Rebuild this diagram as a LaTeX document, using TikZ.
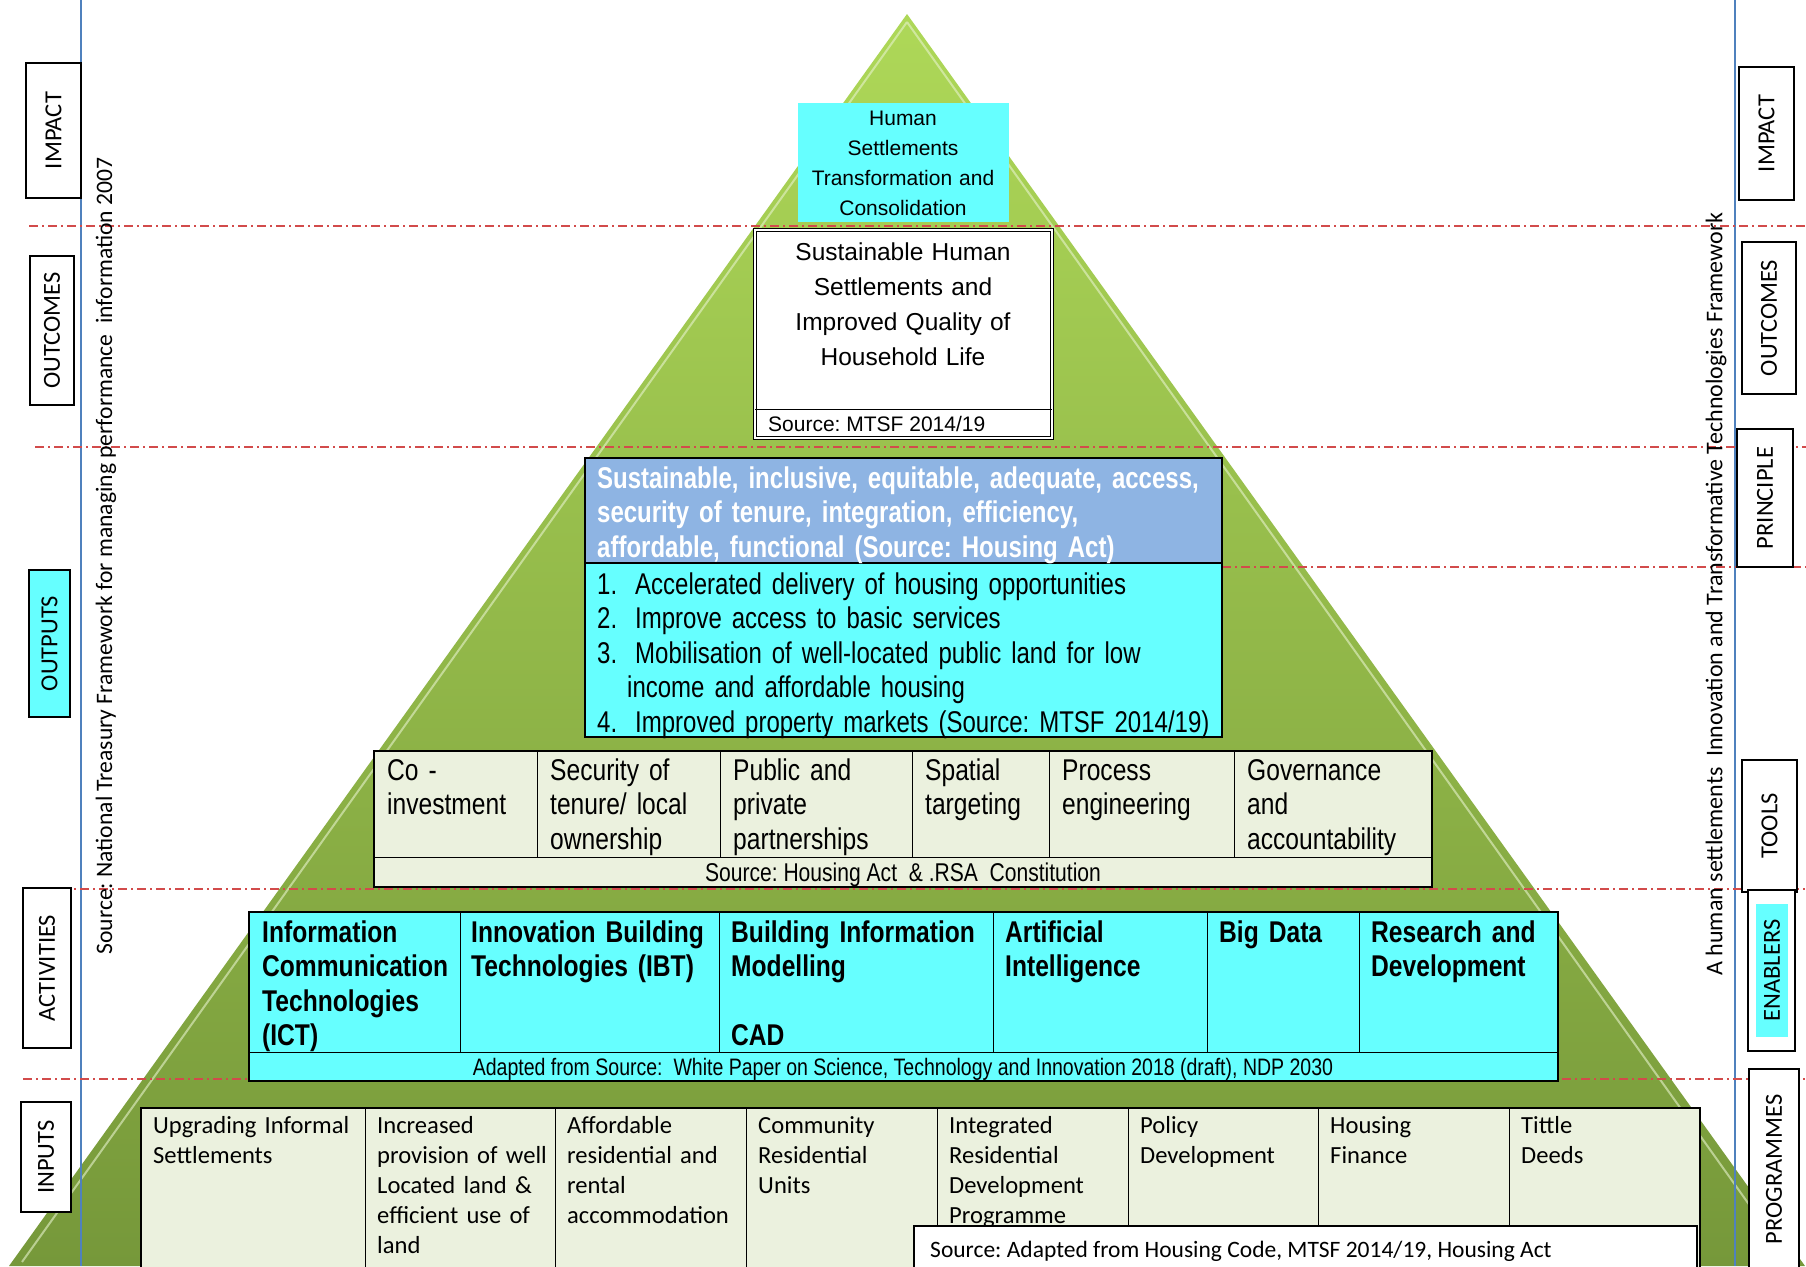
\documentclass[tikz,border=0pt]{standalone}
\usepackage{fontspec}
\setmainfont{Liberation Sans}
\newfontfamily\narrowf[FakeStretch=0.82]{Liberation Sans}
\newfontfamily\narrowg[FakeStretch=0.80]{Liberation Sans}
\newfontfamily\calibf{Carlito}
\frenchspacing
\definecolor{cyanbox}{HTML}{66FFFF}
\definecolor{princ}{HTML}{8EB4E3}
\definecolor{paleg}{HTML}{EBF1DE}
\definecolor{redline}{HTML}{D24B4B}
\definecolor{blueline}{HTML}{4F81BD}
\definecolor{pyrtop}{HTML}{AED858}
\definecolor{pyrbot}{HTML}{76983A}
\newcommand\fnar{\narrowf\fontsize{30}{34.6}\selectfont}
\newcommand\fnarg{\narrowg\fontsize{30}{34.6}\selectfont}
\newcommand\fnarb{\narrowf\bfseries\fontsize{30}{34.6}\selectfont}
\newcommand\fnargb{\narrowg\bfseries\fontsize{30}{34.6}\selectfont}
\newcommand\fcal{\calibf\fontsize{24.6}{30}\selectfont}
\begin{document}
\begin{tikzpicture}[x=1pt,y=-1pt,
  sidelab/.style={draw=black, line width=1.2pt, fill=white, inner sep=0pt, rotate=90,
    font=\calibf\fontsize{24.5}{26}\selectfont},
  cell/.style={anchor=base west, inner sep=0pt, align=left, text width=#1},
  cell/.default=260pt,
  ccell/.style={anchor=base, inner sep=0pt, align=center, text width=#1},
  tbl/.style={draw=black, line width=1.3pt, anchor=north west, inner sep=0pt, outer sep=0pt},
  divl/.style={draw=black, line width=0.9pt},
  ddline/.style={redline, line width=1.1pt, dash pattern=on 9pt off 4pt on 2pt off 4pt},
  bline/.style={blueline, line width=1.3pt}]
\useasboundingbox (0,0) rectangle (1806,1266);
\fill[white] (0,0) rectangle (1806,1266);

% pyramid
\shade[top color=pyrtop, bottom color=pyrbot] (907,14) -- (1805,1266) -- (9,1266) -- cycle;
\draw[white!70!pyrtop, line width=2pt, opacity=0.6] (907,22) -- (1790,1262) (907,22) -- (22,1262);

% blue vertical lines
\coordinate (bl1) at (81,0); \coordinate (bl2) at (81,1266);
\coordinate (br1) at (1735,0); \coordinate (br2) at (1735,1266);
\draw[bline] (bl1) -- (bl2);
\draw[bline] (br1) -- (br2);

% red dash-dot lines
\coordinate (r1a) at (29,226); \coordinate (r1b) at (1806,226);
\coordinate (r2a) at (35,447); \coordinate (r2b) at (1806,447);
\coordinate (r3a) at (1222,567); \coordinate (r3b) at (1806,567);
\coordinate (r4a) at (23,889); \coordinate (r4b) at (1806,889);
\coordinate (r5a) at (23,1079); \coordinate (r5b) at (1806,1079);
\draw[ddline] (r1a) -- (r1b);
\draw[ddline] (r2a) -- (r2b);
\draw[ddline] (r3a) -- (r3b);
\draw[ddline] (r4a) -- (r4b);
\draw[ddline] (r5a) -- (r5b);

% impact
\node[anchor=north west, fill=cyanbox, minimum width=211pt, minimum height=119pt, inner sep=0pt] (impact) at (798,103) {};
\node[ccell=211pt, font=\fontsize{21}{30}\selectfont] (impactt) at (903,125)
  {Human\\Settlements\\Transformation and\\Consolidation};

% outcome box
\node[tbl, fill=white, double, double distance=1.5pt, line width=0.8pt, minimum width=297pt, minimum height=208pt] (outc) at (755,230) {};
\draw[divl] (755,409) -- (1052,409);
\node[ccell=297pt, font=\fontsize{24.5}{35}\selectfont] (outct) at (903,260)
  {Sustainable Human\\Settlements and\\Improved Quality of\\Household Life};
\node[anchor=base west, inner sep=0pt, font=\fontsize{21}{24}\selectfont] (outcs) at (768,431.5) {Source: MTSF 2014/19};

% principle / outputs
\node[tbl, fill=cyanbox, minimum width=637pt, minimum height=279pt] (outp) at (585,458) {};
\node[tbl, fill=princ, minimum width=637pt, minimum height=105pt] (princ) at (585,458) {};
\node[cell=620pt, text=white, font=\fnargb] (princt) at (597,488)
  {Sustainable, inclusive, equitable, adequate, access,\\security of tenure, integration, efficiency,\\affordable, functional (Source: Housing Act)};
\node[cell=30pt, font=\fnarg] (n1) at (597,594) {1.};
\node[cell=30pt, font=\fnarg] (n2) at (597,628.6) {2.};
\node[cell=30pt, font=\fnarg] (n3) at (597,663.2) {3.};
\node[cell=30pt, font=\fnarg] (n4) at (597,732.4) {4.};
\node[cell=590pt, font=\fnarg] (o1) at (635,594) {Accelerated delivery of housing opportunities};
\node[cell=590pt, font=\fnarg] (o2) at (635,628.6) {Improve access to basic services};
\node[cell=590pt, font=\fnarg] (o3) at (635,663.2) {Mobilisation of well-located public land for low};
\node[cell=590pt, font=\fnarg] (o3b) at (627,697.8) {income and affordable housing};
\node[cell=590pt, font=\fnarg] (o4) at (635,732.4) {Improved property markets (Source: MTSF 2014/19)};

% tools
\node[tbl, fill=paleg, minimum width=1058pt, minimum height=136pt] (tools) at (374,751) {};
\foreach \xx in {537,720,912,1049,1234} \draw[divl] (\xx,751) -- (\xx,857);
\draw[divl] (374,857) -- (1432,857);
\node[cell, font=\fnar] (t1) at (387,780) {Co -\\investment};
\node[cell, font=\fnar] (t2) at (550,780) {Security of\\tenure/ local\\ownership};
\node[cell, font=\fnar] (t3) at (733,780) {Public and\\private\\partnerships};
\node[cell, font=\fnar] (t4) at (925,780) {Spatial\\targeting};
\node[cell, font=\fnar] (t5) at (1062,780) {Process\\engineering};
\node[cell, font=\fnar] (t6) at (1247,780) {Governance\\and\\accountability};
\node[anchor=base, inner sep=0pt, font=\narrowf\fontsize{25.7}{28}\selectfont] (ts) at (903,881) {Source: Housing Act\ \ \& .RSA\ \ Constitution};

% enablers
\node[tbl, fill=cyanbox, minimum width=1309pt, minimum height=169pt] (enab) at (249,912) {};
\foreach \xx in {460,719,993,1207,1359} \draw[divl] (\xx,912) -- (\xx,1052);
\draw[divl] (249,1052) -- (1558,1052);
\node[cell, font=\fnarb] (e1) at (262,942) {Information\\Communication\\Technologies\\(ICT)};
\node[cell, font=\fnarb] (e2) at (471,942) {Innovation Building\\Technologies (IBT)};
\node[cell, font=\fnarb] (e3) at (731,942) {Building Information\\Modelling};
\node[cell, font=\fnarb] (e3b) at (731,1045.8) {CAD};
\node[cell, font=\fnarb] (e4) at (1005,942) {Artificial\\Intelligence};
\node[cell, font=\fnarb] (e5) at (1219,942) {Big Data};
\node[cell, font=\fnarb] (e6) at (1371,942) {Research and\\Development};
\node[anchor=base, inner sep=0pt, font=\narrowf\fontsize{23.8}{28}\selectfont] (es) at (903,1075.6)
  {Adapted from Source:\ \ White Paper on Science, Technology and Innovation 2018 (draft), NDP 2030};

% inputs
\node[tbl, fill=paleg, minimum width=1559pt, minimum height=170pt] (inp) at (141,1108) {};
\foreach \xx in {365,555,746,937,1128,1318,1509} \draw[divl] (\xx,1108) -- (\xx,1270);
\node[cell, font=\fcal] (i1) at (153,1133) {Upgrading Informal\\Settlements};
\node[cell, font=\fcal] (i2) at (377,1133) {Increased\\provision of well\\Located land \&\\efficient use of\\land};
\node[cell, font=\fcal] (i3) at (567,1133) {Affordable\\residential and\\rental\\accommodation};
\node[cell, font=\fcal] (i4) at (758,1133) {Community\\Residential\\Units};
\node[cell, font=\fcal] (i5) at (949,1133) {Integrated\\Residential\\Development\\Programme};
\node[cell, font=\fcal] (i6) at (1140,1133) {Policy\\Development};
\node[cell, font=\fcal] (i7) at (1330,1133) {Housing\\Finance};
\node[cell, font=\fcal] (i8) at (1521,1133) {Tittle\\Deeds};
\node[tbl, fill=white, line width=1.1pt, minimum width=783pt, minimum height=60pt] (srcbox) at (914,1226) {};
\node[anchor=base west, inner sep=0pt, font=\calibf\fontsize{23.5}{26}\selectfont] (srct) at (930,1257.6)
  {Source: Adapted from Housing Code, MTSF 2014/19, Housing Act};

% vertical source texts
\node[rotate=90, inner sep=0pt, font=\calibf\fontsize{23.6}{25}\selectfont] (lsrc) at (106,556)
  {Source: National Treasury Framework for managing performance\ \ information 2007};
\node[rotate=90, inner sep=0pt, font=\calibf\fontsize{24}{26}\selectfont] (rsrc) at (1716,594)
  {A human settlements\ \ Innovation and Transformative Technologies Framework};

% left labels
\node[sidelab, minimum width=135pt, minimum height=55pt] (lImp) at (53.5,130.5) {IMPACT};
\node[sidelab, minimum width=149pt, minimum height=44pt] (lOut) at (52,330.5) {OUTCOMES};
\node[sidelab, fill=cyanbox, minimum width=147pt, minimum height=41pt] (lOutp) at (49.5,643.5) {OUTPUTS};
\node[sidelab, minimum width=160pt, minimum height=48pt] (lAct) at (47,968) {ACTIVITIES};
\node[sidelab, minimum width=110pt, minimum height=50pt] (lInp) at (46,1157) {INPUTS};

% right labels
\node[sidelab, minimum width=133pt, minimum height=55pt] (rImp) at (1766.5,133.5) {IMPACT};
\node[sidelab, minimum width=152pt, minimum height=54pt] (rOut) at (1769,318) {OUTCOMES};
\node[sidelab, minimum width=138pt, minimum height=56pt] (rPri) at (1765,498) {PRINCIPLE};
\node[sidelab, minimum width=132pt, minimum height=55pt] (rToo) at (1769.5,826) {TOOLS};
\node[sidelab, minimum width=161pt, minimum height=47pt] (rEnab) at (1771.5,970.5) {};
\node[rotate=90, fill=cyanbox, inner sep=0pt, minimum width=133pt, minimum height=32pt,
  font=\calibf\fontsize{24.5}{26}\selectfont] (rEnabt) at (1772,970.5) {ENABLERS};
\node[sidelab, minimum width=201pt, minimum height=50pt] (rProg) at (1774,1169.5) {PROGRAMMES};
\end{tikzpicture}
\end{document}
